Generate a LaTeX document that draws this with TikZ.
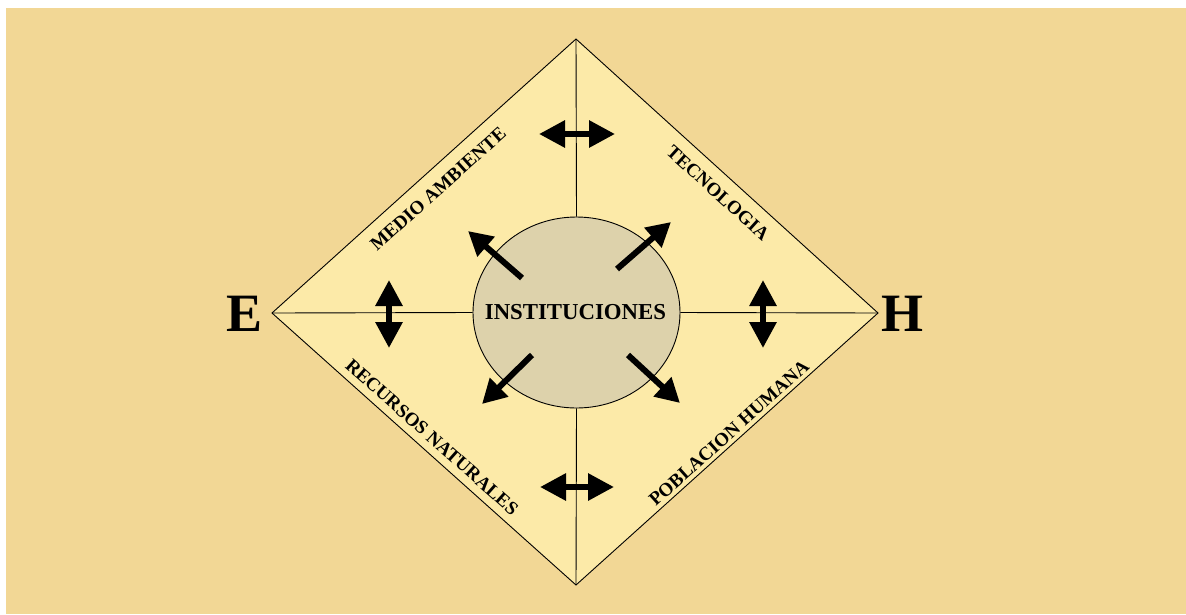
\documentclass[tikz,border=0pt]{standalone}
\usepackage{fontspec}
\setmainfont{Liberation Serif}
\usetikzlibrary{arrows.meta,shapes.geometric}
\definecolor{bgtan}{RGB}{242,215,149}
\definecolor{diafill}{RGB}{252,234,168}
\definecolor{circfill}{RGB}{221,210,171}
\tikzset{
  edge/.style={draw=black,line width=0.9pt},
  dbl/.style={line width=6pt,{Triangle[length=26pt,width=26pt]}-{Triangle[length=26pt,width=26pt]}},
  sgl/.style={line width=6pt,-{Triangle[length=24pt,width=25pt]}},
  sidelabel/.style={font=\bfseries\fontsize{19}{20}\selectfont,inner sep=0pt},
  corner/.style={font=\bfseries\fontsize{54}{56}\selectfont,inner sep=0pt}
}
\begin{document}
\begin{tikzpicture}[x=1pt,y=-1pt]
\useasboundingbox (0,0) rectangle (1186,614);
\fill[white] (0,0) rectangle (1186,614);
\fill[bgtan] (6,8) rectangle (1186,614);
% diamond vertices
\coordinate (T) at (576,39);
\coordinate (R) at (878,313);
\coordinate (B) at (576,585);
\coordinate (L) at (272,313);
\filldraw[fill=diafill,edge] (T) -- (R) -- (B) -- (L) -- cycle;
% center ellipse
\node[ellipse,draw=black,line width=0.9pt,fill=circfill,minimum width=207pt,minimum height=191pt,inner sep=0pt] (inst) at (576.5,312.5) {};
\node[font=\bfseries\fontsize{22.8}{24}\selectfont,inner sep=0pt] (insttxt) at (575.5,312) {INSTITUCIONES};
\draw[edge] (T) -- (inst.north);
\draw[edge] (inst.south) -- (B);
\draw[edge] (L) -- (inst.west);
\draw[edge] (inst.east) -- (R);
% corner letters
\node[corner] (E) at (245,314) {E};
\node[corner] (H) at (902,314) {H};
% side labels
\node[sidelabel,rotate=41.8] (medio) at (438,189) {MEDIO AMBIENTE};
\node[sidelabel,rotate=-42.1] (tecno) at (718,193) {TECNOLOGIA};
\node[sidelabel,rotate=-41.7] (recur) at (432,437) {RECURSOS NATURALES};
\node[sidelabel,rotate=41.9] (pobla) at (729,433) {POBLACION HUMANA};
% double arrows
\coordinate (ta1) at (539,134); \coordinate (ta2) at (615,134);
\coordinate (ba1) at (540,487); \coordinate (ba2) at (614,487);
\coordinate (la1) at (389,280); \coordinate (la2) at (389,348);
\coordinate (ra1) at (763,280); \coordinate (ra2) at (763,348);
\draw[dbl] (ta1) -- (ta2);
\draw[dbl] (ba1) -- (ba2);
\draw[dbl] (la1) -- (la2);
\draw[dbl] (ra1) -- (ra2);
% diagonal arrows
\coordinate (nw1) at (522,278); \coordinate (nw2) at (468,231);
\coordinate (ne1) at (617,269); \coordinate (ne2) at (671,222);
\coordinate (sw1) at (532,355); \coordinate (sw2) at (482,404);
\coordinate (se1) at (628,355); \coordinate (se2) at (680,403);
\draw[sgl] (nw1) -- (nw2);
\draw[sgl] (ne1) -- (ne2);
\draw[sgl] (sw1) -- (sw2);
\draw[sgl] (se1) -- (se2);
\end{tikzpicture}
\end{document}
